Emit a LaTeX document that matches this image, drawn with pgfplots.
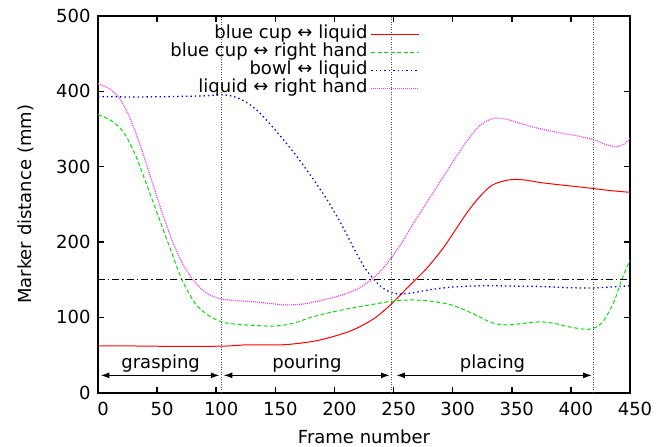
\documentclass[border=0pt]{standalone}
\usepackage{fontspec}
\setmainfont{DejaVu Sans}
\usepackage{pgfplots}
\pgfplotsset{compat=1.18}
\usetikzlibrary{arrows.meta}

\definecolor{gpred}{RGB}{255,0,0}
\definecolor{gpgreen}{RGB}{0,225,0}
\definecolor{gpblue}{RGB}{0,0,255}
\definecolor{gpmag}{RGB}{240,60,240}
\newcommand{\f}{\fontsize{18}{21}\selectfont}

\begin{document}
\begin{tikzpicture}
\begin{axis}[
  scale only axis, width=532pt, height=376.7pt,
  xmin=0, xmax=450, ymin=0, ymax=500,
  xtick={0,50,...,450}, ytick={0,100,...,500},
  axis line style={line width=2pt},
  major tick length=6pt,
  tick style={line width=1.5pt, black},
  tick label style={font=\f},
  /pgf/number format/assume math mode=true,
  xticklabel style={yshift=-6pt, xshift=5pt},
  yticklabel style={xshift=-4pt},
  xlabel={Frame number}, ylabel={Marker distance (mm)},
  label style={font=\f},
  xlabel style={at={(axis description cs:0.5,-0.098)}, anchor=north, inner sep=0pt},
  ylabel style={at={(axis description cs:-0.12,0.5)}, anchor=south, inner sep=0pt},
  legend plot pos=right, legend cell align=right,
  legend style={draw=none, fill=none, font=\f, at={(0.6053,0.976)}, anchor=north east,
    inner sep=0pt, row sep=0pt, column sep=3pt,
    nodes={inner sep=0pt, text height=13.7pt, text depth=4.3pt}},
  legend image code/.code={\draw[#1] (0pt,0pt) -- (48pt,0pt);},
]
% blue cup <-> liquid
\addplot[gpred, line width=1pt, smooth] coordinates {
(0,62)(30,62)(60,61.5)(90,61.5)(110,62)(125,63.5)(140,63.5)(155,63.5)(170,65.5)
(185,69)(200,75)(212,81)(222,88)(235,100)(247,116)(256,130)(264,143)(278,165)
(292,192)(304,220)(314,243)(324,262)(334,276)(348,282.5)(360,282.5)(374,279)
(390,276)(405,273.5)(419,271)(435,268)(450,266)};
\addlegendentry{blue cup ↔ liquid}
% blue cup <-> right hand
\addplot[gpgreen, line width=1pt, dash pattern=on 4pt off 2.5pt, smooth] coordinates {
(0,369)(8,364)(14,358)(22,345)(31,318)(40,281)(48,247)(56,213)(63,183)(71,150)
(82,119)(93,103)(104.6,94)(116,91)(135,89)(150,88.5)(165,92)(180,100)(195,106)
(210,111)(228,116)(247,121)(262,123)(275,122.5)(288,120)(300,116)(317,105)
(333,93)(346,90)(360,92)(374,94)(386,92)(398,87.5)(413,84)(420,86)(427,94)
(436,119)(443,150)(450,176)};
\addlegendentry{blue cup ↔ right hand}
% bowl <-> liquid
\addplot[gpblue, line width=1.3pt, dash pattern=on 1.4pt off 3pt, smooth] coordinates {
(0,393)(30,392.5)(60,393)(90,394)(104,395.5)(115,393)(125,386)(135,374)(147,354)
(165,320)(180,288)(193,258)(205,226)(219,184)(226,165)(233,151)(240,140)(248,133)
(256,131)(266,132.5)(280,136.5)(298,140)(315,141.5)(332,142)(350,141.5)(374,141)
(395,139.5)(416,139)(432,140)(450,142)};
\addlegendentry{bowl ↔ liquid}
% liquid <-> right hand
\addplot[gpmag, line width=1.2pt, dash pattern=on 1pt off 1pt, smooth] coordinates {
(0,410)(8,405)(16,395)(24,375)(32,345)(40,308)(48,269)(56,231)(64,197)(72,170)
(80,150.5)(88,137)(96,128.7)(104,124.5)(115,122.5)(130,121)(145,118.5)(160,116.5)
(175,118)(190,123)(205,129)(220,138)(232,151)(241,165)(249,181)(257,199)(265,220)
(275,245)(289,279)(300,306)(312,334)(324,356)(336,364.5)(348,362)(360,356)
(375,350)(390,345)(405,341)(419,336)(430,329)(438,326.5)(445,330)(450,338)};
\addlegendentry{liquid ↔ right hand}
% threshold and phase boundaries
\addplot[forget plot, black, line width=0.8pt, dash pattern=on 7pt off 3pt on 1.5pt off 3pt]
  coordinates {(0,150)(450,150)};
\addplot[forget plot, gray!60!black, line width=0.7pt, dash pattern=on 1pt off 1.5pt]
  coordinates {(104.5,0)(104.5,500)};
\addplot[forget plot, gray!60!black, line width=0.7pt, dash pattern=on 1pt off 1.5pt]
  coordinates {(248.5,0)(248.5,500)};
\addplot[forget plot, gray!60!black, line width=0.7pt, dash pattern=on 1pt off 1.5pt]
  coordinates {(419,0)(419,500)};
\draw[line width=1.5pt, {Latex[length=9pt,width=6pt]}-{Latex[length=9pt,width=6pt]}]
  (axis cs:2,23) -- (axis cs:103,23);
\draw[line width=1.5pt, {Latex[length=9pt,width=6pt]}-{Latex[length=9pt,width=6pt]}]
  (axis cs:106,23) -- (axis cs:247,23);
\draw[line width=1.5pt, {Latex[length=9pt,width=6pt]}-{Latex[length=9pt,width=6pt]}]
  (axis cs:252,23) -- (axis cs:418,23);
\node[font=\f, anchor=base] at (axis cs:53,32.4) {grasping};
\node[font=\f, anchor=base] at (axis cs:176.8,32.4) {pouring};
\node[font=\f, anchor=base] at (axis cs:333.7,32.4) {placing};
\end{axis}
\pgfresetboundingbox
\path ([shift={(-98pt,-54.3pt)}]current axis.south west) rectangle ([shift={(34pt,16pt)}]current axis.north east);
\end{tikzpicture}
\end{document}
